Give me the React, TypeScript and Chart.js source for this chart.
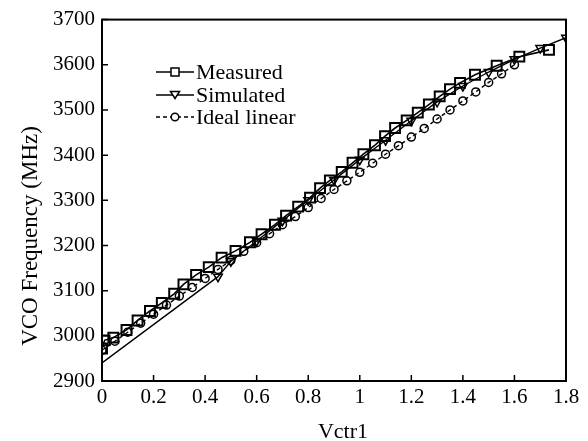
import React, { useEffect, useRef } from "react";
import { Chart, registerables } from "chart.js";

Chart.register(...registerables);

const xTicks = [0, 0.2, 0.4, 0.6, 0.8, 1, 1.2, 1.4, 1.6, 1.8];
const yTicks = [2900, 3000, 3100, 3200, 3300, 3400, 3500, 3600, 3700];

const measuredX = [0, 0.01, 0.044, 0.095, 0.138, 0.186, 0.232, 0.28, 0.316, 0.365, 0.414, 0.464, 0.518, 0.574, 0.619, 0.671, 0.714, 0.761, 0.807, 0.846, 0.884, 0.93, 0.972, 1.014, 1.059, 1.098, 1.137, 1.182, 1.225, 1.268, 1.31, 1.35, 1.389, 1.447, 1.531, 1.619, 1.734];
const measuredY = [2972, 2990, 2996, 3013, 3034, 3055, 3073, 3093, 3114, 3135, 3152, 3173, 3188, 3207, 3225, 3246, 3266, 3286, 3306, 3327, 3344, 3363, 3383, 3402, 3422, 3442, 3460, 3477, 3494, 3512, 3530, 3546, 3560, 3578, 3598, 3618, 3633];

const simX = [0, 0.45, 0.5, 0.6, 0.7, 0.8, 0.9, 1.0, 1.1, 1.2, 1.3, 1.4, 1.5, 1.6, 1.7, 1.8];
const simY = [2940, 3131, 3165, 3210, 3255, 3300, 3345, 3390, 3433, 3476, 3518, 3553, 3584, 3612, 3637, 3660];

const idealX = [0, 0.05, 0.1, 0.15, 0.2, 0.25, 0.3, 0.35, 0.4, 0.45, 0.5, 0.55, 0.6, 0.65, 0.7, 0.75, 0.8, 0.85, 0.9, 0.95, 1.0, 1.05, 1.1, 1.15, 1.2, 1.25, 1.3, 1.35, 1.4, 1.45, 1.5, 1.55, 1.6];
const idealY = [2968, 2988, 3008, 3028, 3048, 3068, 3088, 3107, 3127, 3147, 3167, 3187, 3206, 3226, 3246, 3264, 3284, 3304, 3324, 3343, 3362, 3382, 3402, 3421, 3440, 3459, 3480, 3500, 3520, 3540, 3561, 3580, 3600];

const legendLabels = ["Measured", "Simulated", "Ideal linear"];
const xTitle = "Vctr1";
const yTitle = "VCO Frequency (MHz)";

const FONT = "'Liberation Serif', 'Times New Roman', serif";

const pts = (xs: number[], ys: number[]) => xs.map((x, i) => ({ x, y: ys[i] }));

const decorPlugin = {
  id: "decor",
  afterDraw(chart: any) {
    const { ctx, chartArea: a } = chart;
    const xs = chart.scales.x;
    const ys = chart.scales.y;
    ctx.save();
    ctx.strokeStyle = "#000";
    ctx.lineWidth = 2;
    ctx.strokeRect(a.left, a.top, a.right - a.left, a.bottom - a.top);
    ctx.lineWidth = 1.5;
    ctx.beginPath();
    xTicks.forEach((v) => {
      const px = xs.getPixelForValue(v);
      ctx.moveTo(px, a.bottom);
      ctx.lineTo(px, a.bottom - 6);
    });
    yTicks.forEach((v) => {
      const py = ys.getPixelForValue(v);
      ctx.moveTo(a.left, py);
      ctx.lineTo(a.left + 6, py);
    });
    ctx.stroke();

    ctx.fillStyle = "#000";
    ctx.font = `22px ${FONT}`;
    ctx.textAlign = "center";
    ctx.textBaseline = "middle";
    ctx.fillText(xTitle, 343, 432);
    ctx.save();
    ctx.translate(31, 236);
    ctx.rotate(-Math.PI / 2);
    ctx.font = `23px ${FONT}`;
    ctx.fillText(yTitle, 0, 0);
    ctx.restore();

    // legend
    const rows = [72, 95, 117];
    const x0 = 156, x1 = 194, xm = 175;
    rows.forEach((ry, i) => {
      ctx.save();
      ctx.strokeStyle = "#000";
      ctx.lineWidth = 1.6;
      if (i === 2) ctx.setLineDash([4, 3]);
      ctx.beginPath();
      ctx.moveTo(x0, ry);
      ctx.lineTo(x1, ry);
      ctx.stroke();
      ctx.setLineDash([]);
      ctx.fillStyle = "#fff";
      ctx.lineWidth = 1.5;
      ctx.beginPath();
      if (i === 0) {
        ctx.rect(xm - 4, ry - 4, 8, 8);
      } else if (i === 1) {
        ctx.moveTo(xm - 4.5, ry - 3.5);
        ctx.lineTo(xm + 4.5, ry - 3.5);
        ctx.lineTo(xm, ry + 3.5);
        ctx.closePath();
      } else {
        ctx.arc(xm, ry, 3.8, 0, Math.PI * 2);
      }
      ctx.fill();
      ctx.stroke();
      ctx.restore();
      ctx.fillStyle = "#000";
      ctx.font = `22px ${FONT}`;
      ctx.textAlign = "left";
      ctx.textBaseline = "middle";
      ctx.fillText(legendLabels[i], 196, ry + 1);
    });
    ctx.restore();
  },
};

export default function App() {
  const ref = useRef<HTMLCanvasElement | null>(null);
  useEffect(() => {
    if (!ref.current) return;
    const chart = new Chart(ref.current, {
      type: "line",
      data: {
        datasets: [
          {
            label: legendLabels[0],
            data: pts(measuredX, measuredY),
            borderColor: "#000",
            borderWidth: 1.6,
            pointStyle: "rect",
            pointRadius: 7,
            pointBorderWidth: 2,
            pointBorderColor: "#000",
            pointBackgroundColor: "rgba(255,255,255,0)",
            tension: 0,
          },
          {
            label: legendLabels[1],
            data: pts(simX, simY),
            borderColor: "#000",
            borderWidth: 1.4,
            pointStyle: "triangle",
            pointRotation: 180,
            pointRadius: simX.map((_, i) => (i === 0 ? 0 : 5)),
            pointBorderWidth: 1.5,
            pointBorderColor: "#000",
            pointBackgroundColor: "rgba(255,255,255,0)",
            tension: 0,
          },
          {
            label: legendLabels[2],
            data: pts(idealX, idealY),
            borderColor: "#000",
            borderWidth: 1.4,
            borderDash: [4, 3],
            pointStyle: "circle",
            pointRadius: 4,
            pointBorderWidth: 1.5,
            pointBorderColor: "#000",
            pointBackgroundColor: "rgba(255,255,255,0)",
            tension: 0,
          },
        ],
      },
      options: {
        responsive: false,
        animation: false,
        layout: { padding: { top: 18, right: 22, left: 0, bottom: 0 } },
        plugins: { legend: { display: false }, title: { display: false }, tooltip: { enabled: false } },
        scales: {
          x: {
            type: "linear",
            min: 0,
            max: 1.8,
            afterBuildTicks: (s: any) => {
              s.ticks = xTicks.map((v) => ({ value: v }));
            },
            afterFit: (s: any) => {
              s.height = 60;
            },
            grid: { display: false, drawTicks: false },
            border: { display: false },
            ticks: {
              color: "#000",
              padding: 4,
              maxRotation: 0,
              autoSkip: false,
              font: { family: FONT, size: 21 },
              callback: (v: any) => String(Math.round(Number(v) * 10) / 10),
            },
          },
          y: {
            type: "linear",
            min: 2900,
            max: 3700,
            afterBuildTicks: (s: any) => {
              s.ticks = yTicks.map((v) => ({ value: v }));
            },
            afterFit: (s: any) => {
              s.width = 102;
            },
            grid: { display: false, drawTicks: false },
            border: { display: false },
            ticks: {
              color: "#000",
              padding: 7,
              autoSkip: false,
              font: { family: FONT, size: 21 },
              callback: (v: any) => String(v),
            },
          },
        },
      },
      plugins: [decorPlugin],
    } as any);
    return () => chart.destroy();
  }, []);
  return (
    <div style={{ position: "fixed", left: 0, top: 0, width: 588, height: 441, background: "#fff" }}>
      <canvas ref={ref} width={588} height={441} style={{ width: 588, height: 441, display: "block" }} />
    </div>
  );
}
